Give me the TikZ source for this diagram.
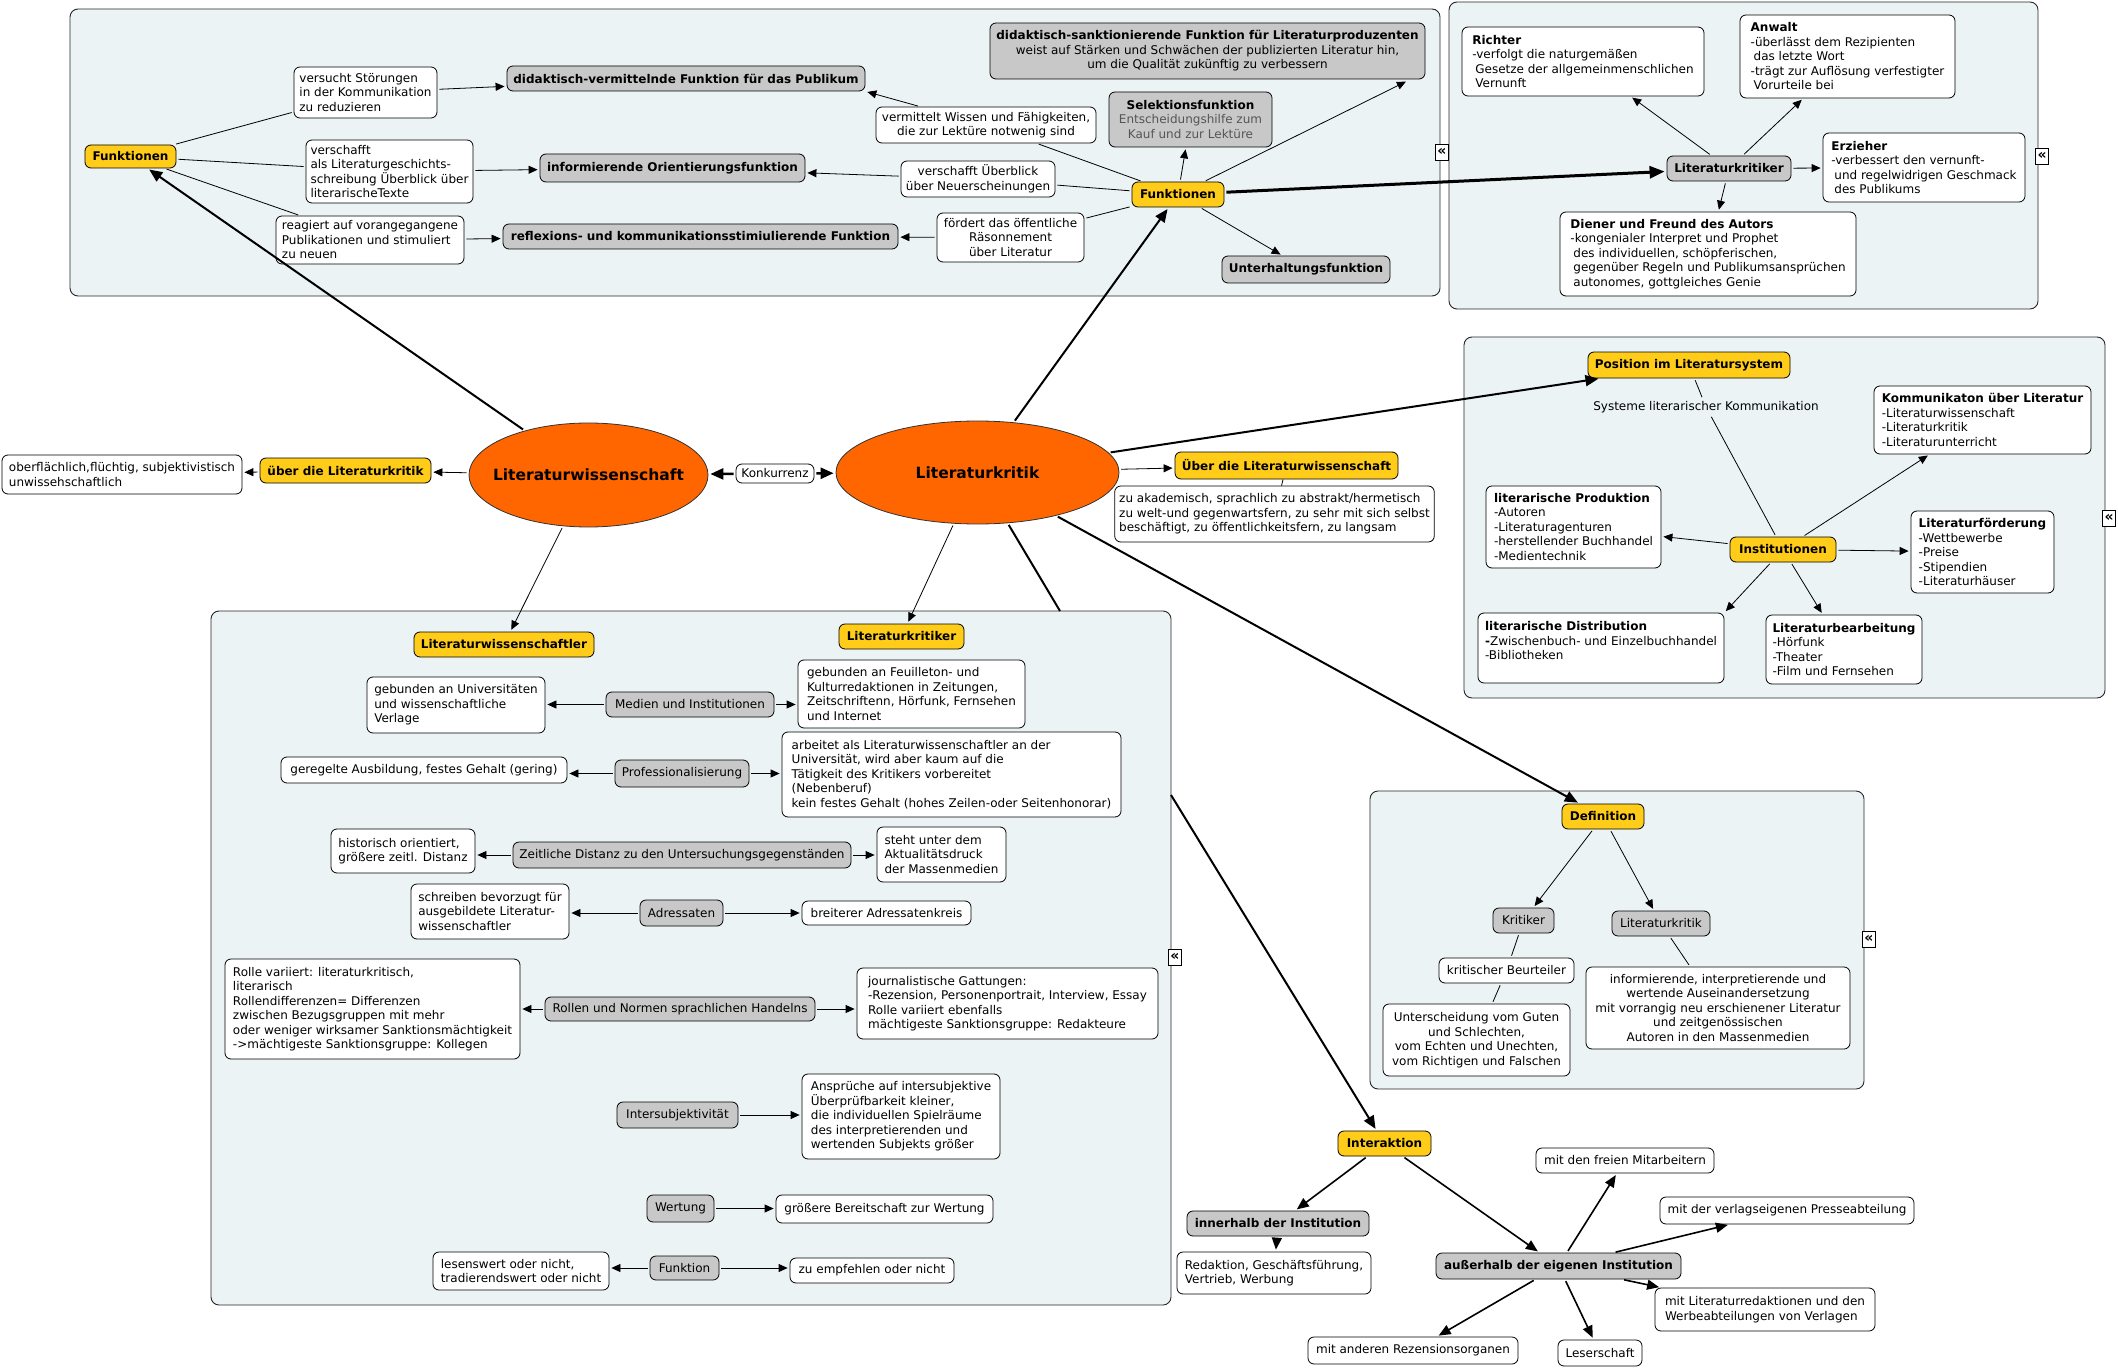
\documentclass[tikz,border=0pt]{standalone}
\usepackage{fontspec}
\setmainfont{DejaVu Sans}
\usetikzlibrary{shapes.geometric,arrows.meta}
\definecolor{yel}{RGB}{255,204,26}
\definecolor{gry}{RGB}{200,200,200}
\definecolor{cont}{RGB}{236,243,245}
\definecolor{orng}{RGB}{255,102,0}
\definecolor{subc}{RGB}{85,85,85}
\newcommand\nf{\fontsize{12}{14.5}\selectfont}
\newcommand\mybox[7]{\node[#2, minimum width={#5-#3}, minimum height={#6-#4}] (#1) at ({(#3+#5)/2},{(#4+#6)/2}) {#7};}
\newcommand\ind{\hspace*{3pt}}
\tikzset{
 base/.style={draw=black, line width=0.8pt, rounded corners=6pt, inner xsep=4.5pt, inner ysep=3pt, font=\nf, text=black},
 wb/.style={base, fill=white, align=left},
 wbc/.style={base, fill=white, align=center},
 gb/.style={base, fill=gry, align=center},
 gbb/.style={gb, font=\nf\bfseries},
 yb/.style={base, fill=yel, font=\nf\bfseries},
 contbox/.style={draw=black!85, line width=0.9pt, fill=cont, rounded corners=8pt, inner sep=0pt},
 ell/.style={ellipse, draw=black!80, line width=0.8pt, fill=orng, inner sep=0pt},
 elltext/.style={font=\fontsize{15.5}{18}\selectfont\bfseries, inner sep=0pt},
 ln/.style={line width=0.8pt, shorten <=2pt, shorten >=2pt},
 ar/.style={ln, -{Triangle[length=9pt,width=8pt]}},
 thk/.style={line width=2pt, shorten <=2pt, shorten >=2pt},
 tar/.style={thk, -{Triangle[length=13pt,width=11pt]}},
 iar/.style={line width=1.6pt, shorten <=2pt, shorten >=2pt, -{Triangle[length=12pt,width=10pt]}},
 icon/.style={draw, fill=white, line width=0.8pt, inner sep=0.5pt, font=\fontsize{14}{14}\selectfont\bfseries, minimum width=13pt, minimum height=16pt}
}
\begin{document}
\begin{tikzpicture}[x=1pt,y=-1pt]
\fill[white] (0,0) rectangle (2118,1372);
\useasboundingbox (0,0) rectangle (2118,1372);

% ---------- containers
\mybox{A}{contbox}{70}{9}{1440}{296}{}
\mybox{B}{contbox}{1449}{2}{2038}{309}{}
\mybox{C}{contbox}{1464}{337}{2105}{698}{}
\mybox{D}{contbox}{211}{611}{1171}{1305}{}
\mybox{E}{contbox}{1370}{791}{1864}{1089}{}

% ---------- container A
\mybox{fl}{yb}{85}{145}{176}{168}{Funktionen}
\mybox{vs}{wb}{294}{67}{437}{118}{versucht Störungen\\in der Kommunikation\\zu reduzieren}
\mybox{dvm}{gbb}{507}{66}{865}{91}{didaktisch-vermittelnde Funktion für das Publikum}
\mybox{vsc}{wb}{306}{140}{473}{203}{verschafft\\als Literaturgeschichts-\\schreibung Überblick über\\literarischeTexte}
\mybox{iof}{gbb}{540}{154}{805}{182}{informierende Orientierungsfunktion}
\mybox{rea}{wb}{276}{216}{464}{264}{reagiert auf vorangegangene\\Publikationen und stimuliert\\zu neuen}
\mybox{rkf}{gbb}{503}{224}{898}{249}{reflexions- und kommunikationsstimiulierende Funktion}
\mybox{dsf}{gb}{990}{23}{1425}{79}{\textbf{didaktisch-sanktionierende Funktion für Literaturproduzenten}\\weist auf Stärken und Schwächen der publizierten Literatur hin,\\um die Qualität zukünftig zu verbessern}
\mybox{vwf}{wbc}{876}{107}{1096}{143}{vermittelt Wissen und Fähigkeiten,\\die zur Lektüre notwenig sind}
\mybox{sel}{gb}{1109}{92}{1272}{147}{\textbf{Selektionsfunktion}\\\textcolor{subc}{Entscheidungshilfe zum}\\\textcolor{subc}{Kauf und zur Lektüre}}
\mybox{vue}{wbc}{901}{161}{1055}{197}{verschafft Überblick\\über Neuerscheinungen}
\mybox{fc}{yb}{1132}{182}{1224}{207}{Funktionen}
\mybox{foe}{wbc}{937}{213}{1084}{262}{fördert das öffentliche\\Räsonnement\\über Literatur}
\mybox{unt}{gbb}{1222}{256}{1390}{283}{Unterhaltungsfunktion}

% ---------- container B
\mybox{ric}{wb}{1462}{27}{1704}{96}{\textbf{Richter}\\-verfolgt die naturgemäßen\\\ind Gesetze der allgemeinmenschlichen\\\ind Vernunft}
\mybox{anw}{wb}{1740}{15}{1955}{98}{\textbf{Anwalt}\\-überlässt dem Rezipienten\\\ind das letzte Wort\\-trägt zur Auflösung verfestigter\\\ind Vorurteile bei}
\mybox{lkr}{gbb}{1667}{156}{1791}{181}{Literaturkritiker}
\mybox{erz}{wb}{1823}{133}{2025}{202}{\textbf{Erzieher}\\-verbessert den vernunft-\\\ind und regelwidrigen Geschmack\\\ind des Publikums}
\mybox{die}{wb}{1560}{212}{1856}{296}{\textbf{Diener und Freund des Autors}\\-kongenialer Interpret und Prophet\\\ind des individuellen, schöpferischen,\\\ind gegenüber Regeln und Publikumsansprüchen\\\ind autonomes, gottgleiches Genie}

% ---------- centre
\mybox{lw}{ell}{469}{423}{708}{527}{}
\node[elltext] (lwt) at (lw.center) {Literaturwissenschaft};
\mybox{lk}{ell}{836}{421}{1119}{524}{}
\node[elltext] (lkt) at (lk.center) {Literaturkritik};
\mybox{kon}{wbc, inner xsep=2pt}{736}{464}{814}{483}{Konkurrenz}
\mybox{udlk}{yb}{260}{458}{431}{483}{über die Literaturkritik}
\mybox{obf}{wb}{2}{455}{242}{494}{oberflächlich,flüchtig, subjektivistisch\\unwissehschaftlich}
\mybox{udlw}{yb}{1175}{452}{1398}{479}{Über die Literaturwissenschaft}
\mybox{zak}{wb}{1115}{486}{1434}{542}{zu akademisch, sprachlich zu abstrakt/hermetisch\\zu welt-und gegenwartsfern, zu sehr mit sich selbst\\beschäftigt, zu öffentlichkeitsfern, zu langsam}

% ---------- container C
\mybox{pos}{yb}{1588}{352}{1790}{378}{Position im Literatursystem}
\node[font=\nf, inner sep=2pt] (sys) at (1706,407) {Systeme literarischer Kommunikation};
\mybox{kom}{wb}{1874}{386}{2091}{454}{\textbf{Kommunikaton über Literatur}\\-Literaturwissenschaft\\-Literaturkritik\\-Literaturunterricht}
\mybox{pro}{wb}{1486}{486}{1661}{568}{\textbf{literarische Produktion}\\-Autoren\\-Literaturagenturen\\-herstellender Buchhandel\\-Medientechnik}
\mybox{ins}{yb}{1730}{537}{1836}{562}{Institutionen}
\mybox{lfo}{wb}{1911}{511}{2054}{593}{\textbf{Literaturförderung}\\-Wettbewerbe\\-Preise\\-Stipendien\\-Literaturhäuser}
\mybox{dis}{wb}{1478}{613}{1724}{683}{\textbf{literarische Distribution}\\\textbf{-}Zwischenbuch- und Einzelbuchhandel\\-Bibliotheken\\\mbox{}}
\mybox{lbe}{wb}{1766}{615}{1922}{684}{\textbf{Literaturbearbeitung}\\-Hörfunk\\-Theater\\-Film und Fernsehen}

% ---------- container D
\mybox{lws}{yb}{414}{632}{594}{657}{Literaturwissenschaftler}
\mybox{lks}{yb}{839}{624}{964}{649}{Literaturkritiker}
\mybox{gu}{wb}{367}{677}{545}{733}{gebunden an Universitäten\\und wissenschaftliche\\Verlage}
\mybox{mi}{gb}{606}{692}{774}{717}{Medien und Institutionen}
\mybox{gf}{wb}{798}{660}{1025}{728}{gebunden an Feuilleton- und\\Kulturredaktionen in Zeitungen,\\Zeitschriftenn, Hörfunk, Fernsehen\\und Internet}
\mybox{ga}{wb}{281}{757}{567}{783}{geregelte Ausbildung, festes Gehalt (gering)}
\mybox{pr}{gb}{615}{760}{749}{787}{Professionalisierung}
\mybox{aa}{wb}{782}{732}{1121}{817}{arbeitet als Literaturwissenschaftler an der\\Universität, wird aber kaum auf die\\Tätigkeit des Kritikers vorbereitet\\(Nebenberuf)\\kein festes Gehalt (hohes Zeilen-oder Seitenhonorar)}
\mybox{ho}{wb}{331}{829}{475}{873}{historisch orientiert,\\größere zeitl. Distanz}
\mybox{zd}{gb}{513}{842}{851}{868}{Zeitliche Distanz zu den Untersuchungsgegenständen}
\mybox{su}{wb}{877}{827}{1006}{882}{steht unter dem\\Aktualitätsdruck\\der Massenmedien}
\mybox{sb}{wb}{411}{884}{569}{939}{schreiben bevorzugt für\\ausgebildete Literatur-\\wissenschaftler}
\mybox{ad}{gb}{640}{900}{723}{926}{Adressaten}
\mybox{ba}{wb}{802}{901}{971}{925}{breiterer Adressatenkreis}
\mybox{rv}{wb}{225}{959}{520}{1059}{Rolle variiert: literaturkritisch,\\literarisch\\Rollendifferenzen= Differenzen\\zwischen Bezugsgruppen mit mehr\\oder weniger wirksamer Sanktionsmächtigkeit\\->mächtigeste Sanktionsgruppe: Kollegen}
\mybox{rn}{gb}{545}{997}{815}{1021}{Rollen und Normen sprachlichen Handelns}
\mybox{jg}{wb}{857}{968}{1158}{1039}{journalistische Gattungen:\\-Rezension, Personenportrait, Interview, Essay\\Rolle variiert ebenfalls\\mächtigeste Sanktionsgruppe: Redakteure}
\mybox{is}{gb}{617}{1102}{738}{1128}{Intersubjektivität}
\mybox{an}{wb}{802}{1074}{1000}{1159}{Ansprüche auf intersubjektive\\Überprüfbarkeit kleiner,\\die individuellen Spielräume\\des interpretierenden und\\wertenden Subjekts größer}
\mybox{we}{gb}{647}{1195}{714}{1222}{Wertung}
\mybox{gbr}{wb}{776}{1195}{993}{1223}{größere Bereitschaft zur Wertung}
\mybox{fu}{gb}{650}{1256}{719}{1280}{Funktion}
\mybox{lo}{wb}{433}{1252}{609}{1290}{lesenswert oder nicht,\\tradierendswert oder nicht}
\mybox{ze}{wb}{790}{1258}{954}{1283}{zu empfehlen oder nicht}

% ---------- container E
\mybox{def}{yb}{1562}{804}{1644}{829}{Definition}
\mybox{kri}{gb}{1493}{908}{1554}{933}{Kritiker}
\mybox{lkd}{gb}{1612}{911}{1710}{936}{Literaturkritik}
\mybox{kb}{wbc}{1439}{958}{1574}{983}{kritischer Beurteiler}
\mybox{ug}{wbc}{1383}{1004}{1570}{1076}{Unterscheidung vom Guten\\und Schlechten,\\vom Echten und Unechten,\\vom Richtigen und Falschen}
\mybox{inf}{wbc}{1586}{967}{1850}{1049}{informierende, interpretierende und\\wertende Auseinandersetzung\\mit vorrangig neu erschienener Literatur\\und zeitgenössischen\\Autoren in den Massenmedien}

% ---------- Interaktion
\mybox{ia}{yb}{1338}{1131}{1431}{1156}{Interaktion}
\mybox{inn}{gbb}{1187}{1211}{1369}{1236}{innerhalb der Institution}
\mybox{red}{wb}{1177}{1252}{1371}{1294}{Redaktion, Geschäftsführung,\\Vertrieb, Werbung}
\mybox{aus}{gbb}{1436}{1253}{1681}{1279}{außerhalb der eigenen Institution}
\mybox{fm}{wbc}{1536}{1148}{1714}{1173}{mit den freien Mitarbeitern}
\mybox{pa}{wbc}{1660}{1197}{1914}{1224}{mit der verlagseigenen Presseabteilung}
\mybox{lr}{wb}{1655}{1288}{1875}{1331}{mit Literaturredaktionen und den\\Werbeabteilungen von Verlagen}
\mybox{ro}{wbc}{1308}{1337}{1518}{1364}{mit anderen Rezensionsorganen}
\mybox{ls}{wbc}{1558}{1340}{1642}{1366}{Leserschaft}

% ---------- collapse icons
\node[icon] (ic1) at (1442,152) {«};
\node[icon] (ic2) at (2042,156) {«};
\node[icon] (ic3) at (2109,518) {«};
\node[icon] (ic4) at (1869,939) {«};
\node[icon] (ic5) at (1175,957) {«};

% ---------- connectors A
\draw[ln] (fl) -- (vs);
\draw[ar] (vs) -- (dvm);
\draw[ln] (fl) -- (vsc);
\draw[ar] (vsc) -- (iof);
\draw[ln] (fl) -- (rea);
\draw[ar] (rea) -- (rkf);
\draw[ln] (fc) -- (vwf);
\draw[ar] (vwf) -- (dvm.south east);
\draw[ln] (fc) -- (vue);
\draw[ar] (vue) -- (iof);
\draw[ln] (fc) -- (foe);
\draw[ar] (foe) -- (rkf);
\draw[ar] (fc) -- (sel);
\draw[ar, shorten >=5pt] (fc) -- ([xshift=-15pt]dsf.south east);
\draw[ar] (fc) -- (unt);
\draw[thk, line width=3pt, -{Triangle[length=15pt,width=12pt]}] (fc) -- (lkr);

% ---------- connectors B
\draw[ar] (lkr) -- (ric);
\draw[ar] (lkr) -- (anw);
\draw[ar] (lkr) -- (erz);
\draw[ar] (lkr) -- (die);

% ---------- connectors centre
\draw[tar] (lw) -- (fl);
\draw[tar] (lk) -- (fc);
\draw[tar] (lk) -- (pos);
\draw[tar] (lk) -- (def);
\coordinate (dtop) at (1060,611);
\draw[thk, shorten >=0pt] (lk) -- (dtop);
\coordinate (dright) at (1171,795);
\draw[tar, shorten <=0pt] (dright) -- (ia);
\draw[ar] (lk) -- (lks);
\draw[ar] (lw) -- (lws);
\draw[ar] (lw) -- (udlk);
\draw[ar] (udlk) -- (obf);
\draw[ar] (lk) -- (udlw);
\draw[ln, shorten <=0pt, shorten >=0pt] (udlw) -- (zak);
\draw[tar, line width=2.5pt] (kon) -- (lw);
\draw[tar, line width=2.5pt] (kon) -- (lk);

% ---------- connectors C
\draw[ln] (pos) -- (sys);
\draw[ln] (sys) -- (ins);
\draw[ar] (ins) -- (pro);
\draw[ar] (ins) -- (kom);
\draw[ar] (ins) -- (lfo);
\draw[ar] (ins) -- (dis.north east);
\draw[ar] (ins) -- (lbe);

% ---------- connectors D
\draw[ar] (mi.west) -- (mi.west -| gu.east);
\draw[ar] (mi.east) -- (mi.east -| gf.west);
\draw[ar] (pr.west) -- (pr.west -| ga.east);
\draw[ar] (pr.east) -- (pr.east -| aa.west);
\draw[ar] (zd.west) -- (zd.west -| ho.east);
\draw[ar] (zd.east) -- (zd.east -| su.west);
\draw[ar] (ad.west) -- (ad.west -| sb.east);
\draw[ar] (ad.east) -- (ad.east -| ba.west);
\draw[ar] (rn.west) -- (rn.west -| rv.east);
\draw[ar] (rn.east) -- (rn.east -| jg.west);
\draw[ar] (is.east) -- (is.east -| an.west);
\draw[ar] (we.east) -- (we.east -| gbr.west);
\draw[ar] (fu.west) -- (fu.west -| lo.east);
\draw[ar] (fu.east) -- (fu.east -| ze.west);

% ---------- connectors E
\draw[ar] (def) -- (kri);
\draw[ar] (def) -- (lkd);
\draw[ln] (kri) -- (kb);
\draw[ln] (kb) -- (ug);
\draw[ln] (lkd) -- (inf);

% ---------- connectors Interaktion
\draw[iar] (ia) -- (inn);
\draw[iar] (ia) -- (aus);
\draw[iar] (inn) -- (red);
\draw[iar] (aus) -- (fm);
\draw[iar] (aus) -- (pa);
\draw[iar] (aus) -- (lr);
\draw[iar] (aus) -- (ro);
\draw[iar] (aus) -- (ls);
\end{tikzpicture}
\end{document}
